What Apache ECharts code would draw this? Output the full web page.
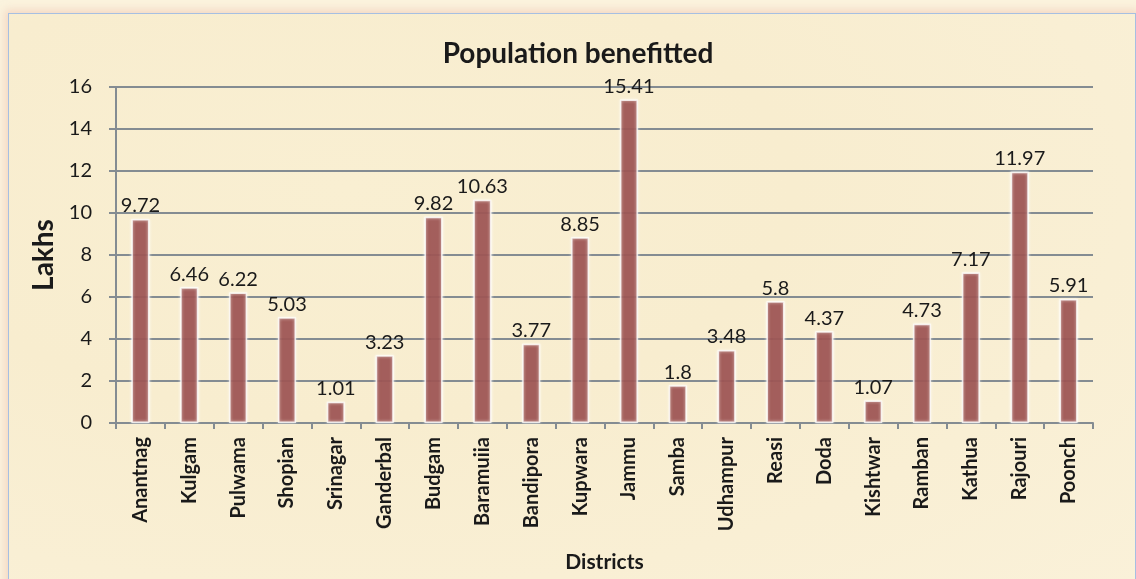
<!DOCTYPE html>
<html><head><meta charset="utf-8">
<script src="https://cdn.jsdelivr.net/npm/echarts@6/dist/echarts.min.js"></script>
<style>
html,body{margin:0;padding:0;width:1136px;height:579px;overflow:hidden;background:#fbf3de;}
#frame{position:absolute;left:8px;top:13px;width:1126px;height:580px;border:1px solid #a6bfe2;box-shadow:0 0 8px 3px rgba(240,190,170,0.5);
background:radial-gradient(ellipse at 30% 30%, #f9efd2 0%, #f8edcf 40%, #faf1d9 100%);}
#chart{position:absolute;left:0;top:0;width:1136px;height:579px;}
</style></head>
<body>
<div id="frame"></div>
<div id="chart"></div>
<script>
const categories = ["Anantnag","Kulgam","Pulwama","Shopian","Srinagar","Ganderbal","Budgam","Baramuiia","Bandipora","Kupwara","Jammu","Samba","Udhampur","Reasi","Doda","Kishtwar","Ramban","Kathua","Rajouri","Poonch"];
const values = [9.72,6.46,6.22,5.03,1.01,3.23,9.82,10.63,3.77,8.85,15.41,1.8,3.48,5.8,4.37,1.07,4.73,7.17,11.97,5.91];
const yTicks = {min:0,max:16,interval:2};

const chart = echarts.init(document.getElementById('chart'), null, {renderer:'canvas'});
const font = 'Lato, "Open Sans", sans-serif';
chart.setOption({
  backgroundColor:'transparent',
  animation:false,
  title:{text:'Population benefitted',left:573,top:35,textAlign:'center',
    textStyle:{fontFamily:font,fontSize:28,fontWeight:'bold',color:'#1a1a1a'}},
  grid:{left:116,right:43,top:87,bottom:156},
  xAxis:{type:'category',data:categories,
    name:'Districts',nameLocation:'middle',nameGap:129,
    nameTextStyle:{fontFamily:font,fontSize:21,fontWeight:'bold',color:'#1a1a1a'},
    axisLine:{lineStyle:{color:'#848c92',width:2}},
    axisTick:{show:true,length:6,lineStyle:{color:'#848c92',width:2},alignWithLabel:false},
    axisLabel:{rotate:90,interval:0,margin:14,fontFamily:font,fontSize:20,fontWeight:'bold',color:'#1a1a1a'}},
  yAxis:{type:'value',min:yTicks.min,max:yTicks.max,interval:yTicks.interval,
    name:'Lakhs',nameLocation:'middle',nameGap:52,nameRotate:90,
    nameTextStyle:{fontFamily:font,fontSize:28,fontWeight:'bold',color:'#1a1a1a'},
    axisLine:{show:true,lineStyle:{color:'#848c92',width:2}},
    axisTick:{show:true,length:7,lineStyle:{color:'#848c92',width:2}},
    splitLine:{lineStyle:{color:'#848c92',width:2}},
    axisLabel:{margin:24,fontFamily:font,fontSize:20,color:'#1a1a1a'}},
  series:[{type:'bar',data:values,barWidth:18,
    itemStyle:{color:'rgba(140,55,54,0.8)',borderColor:'rgba(255,255,255,0.75)',borderWidth:1.5,
      shadowColor:'rgba(255,255,255,0.9)',shadowBlur:3},
    label:{show:true,position:'top',distance:3,fontFamily:font,fontSize:20,color:'#1a1a1a'}}]
});
</script>
</body></html>
